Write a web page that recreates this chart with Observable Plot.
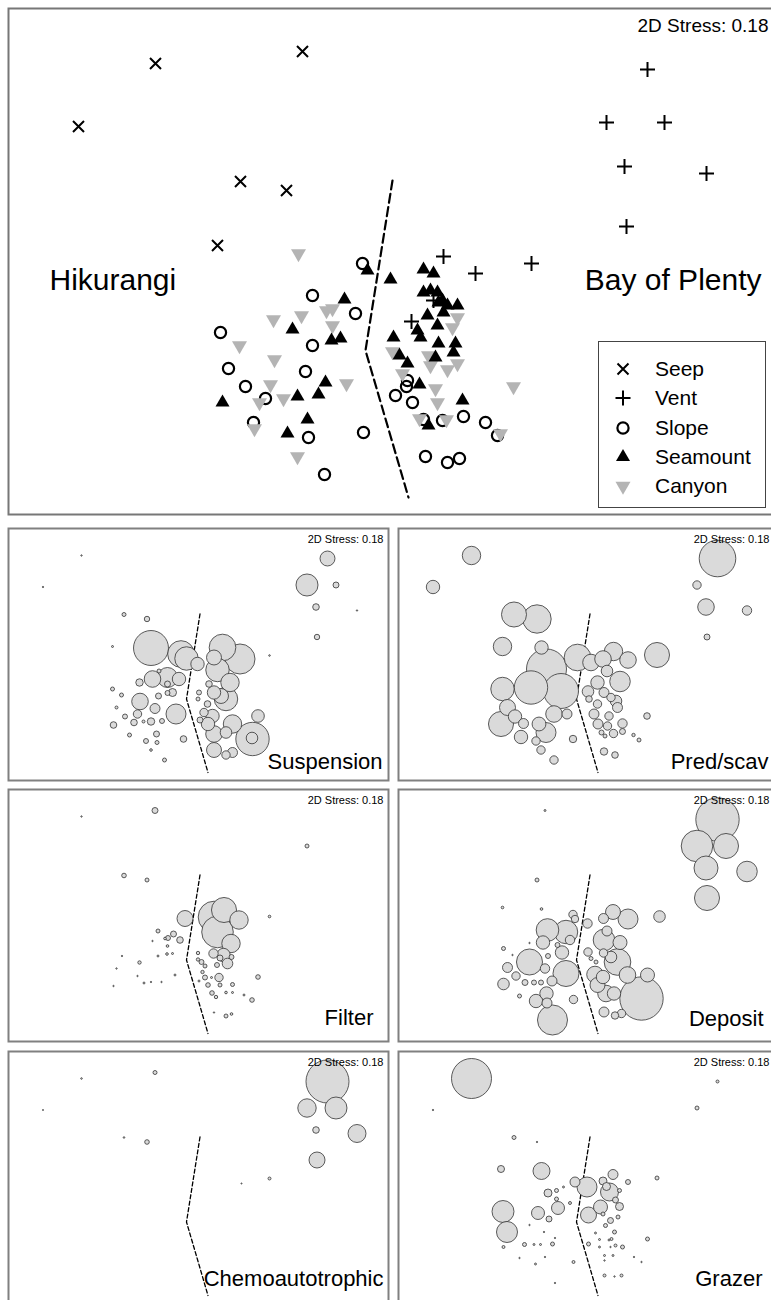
<!DOCTYPE html>
<html>
<head>
<meta charset="utf-8">
<script src="https://cdn.jsdelivr.net/npm/d3@7"></script>
<script src="https://cdn.jsdelivr.net/npm/@observablehq/plot@0.6"></script>
<style>
  html, body { margin: 0; padding: 0; background: #fff; overflow: hidden; }
  #fig { position: relative; width: 771px; height: 1300px; overflow: hidden;
         font-family: "Liberation Sans", Arial, Helvetica, sans-serif; }
  .panel { position: absolute; }
  .panel svg { display: block; }
  #legend { position: absolute; left: 598px; top: 341px; width: 168px; height: 167px;
            box-sizing: border-box; border: 1.5px solid #444; background: #fff; }
  #legend .item { position: absolute; left: 0; height: 24px; display: flex; align-items: center; }
  #legend svg { display: block; }
  #legend span { font-size: 21px; color: #000; margin-left: 20px; }
</style>
</head>
<body>
<div id="fig"></div>
<script>
// nMDS ordination of stations (axis scores), grouped by habitat
const habitats = ["Seep", "Vent", "Slope", "Seamount", "Canyon"];

const seep = [[-2.38, 1.98], [-0.91, 2.10], [-3.15, 1.35], [-1.53, 0.80], [-1.07, 0.71], [-1.76, 0.16]];

const vent = [[2.54, 1.92], [2.13, 1.39], [2.71, 1.39], [2.31, 0.95], [3.13, 0.88], [2.33, 0.35],
  [0.50, 0.05], [0.82, -0.12], [1.38, -0.02], [0.18, -0.60], [0.40, -0.39]];

const slope = [[-0.31, -0.02], [-0.81, -0.34], [-0.38, -0.52], [-1.73, -0.71], [-0.81, -0.84],
  [-1.65, -1.07], [-0.88, -1.10], [-1.48, -1.25], [-1.28, -1.37], [-1.40, -1.61], [-0.85, -1.76],
  [-0.30, -1.71], [-0.69, -2.13], [0.14, -1.19], [0.13, -1.25], [0.02, -1.34], [0.19, -1.41],
  [0.30, -1.58], [0.49, -1.59], [0.70, -1.55], [0.92, -1.61], [1.04, -1.74], [0.32, -1.95],
  [0.54, -2.01], [0.66, -1.97]];

const seamount = [[-0.26, -0.09], [-0.49, -0.38], [-1.01, -0.68], [-0.62, -0.79], [-0.53, -0.77],
  [-0.68, -1.21], [-0.96, -1.35], [-0.75, -1.33], [-1.71, -1.41], [-0.86, -1.58], [-1.06, -1.72],
  [-0.03, -0.18], [0.30, -0.08], [0.40, -0.12], [0.30, -0.31], [0.37, -0.29], [0.44, -0.31],
  [0.49, -0.39], [0.54, -0.44], [0.64, -0.44], [0.34, -0.54], [0.44, -0.64], [0.24, -0.69],
  [0.27, -0.76], [0.45, -0.82], [0.62, -0.82], [0.60, -0.91], [0.00, -0.76], [0.06, -0.94],
  [0.14, -1.02], [0.42, -0.96], [0.26, -1.23], [0.69, -1.39], [0.35, -1.64], [0.50, -0.51],
  [0.45, -0.41]];

const canyon = [[-0.95, 0.08], [-1.20, -0.58], [-0.92, -0.54], [-0.67, -0.49], [-0.61, -0.47],
  [-0.61, -0.64], [-1.54, -0.84], [-1.19, -0.98], [-1.23, -1.23], [-1.34, -1.41], [-1.10, -1.37],
  [-0.47, -1.22], [-1.39, -1.67], [-0.96, -1.95], [-0.01, -0.90], [0.09, -1.12], [0.37, -1.04],
  [0.54, -1.08], [0.64, -1.02], [0.59, -0.66], [0.64, -0.56], [0.42, -1.27], [0.44, -1.41],
  [0.26, -1.57], [0.53, -1.58], [1.07, -1.72], [1.20, -1.25], [0.35, -0.94]];

// dashed line separating the two regions
const boundary = [[-0.01, 0.81], [-0.28, -0.89], [0.15, -2.36]];
const stressLabel = "2D Stress: 0.18";
const regionNames = ["Hikurangi", "Bay of Plenty"];
const regionX = [-3.44, 3.68];
const regionY = [-0.19, -0.19];

// trophic guild bubble overlays: [MDS1, MDS2, relative abundance]
const guilds = ["Suspension", "Pred/scav", "Filter", "Deposit", "Chemoautotrophic", "Grazer"];

const suspension = [[2.54, 1.92, 3.5], [2.13, 1.39, 7.6], [2.71, 1.39, 0.56], [2.31, 0.95, 0.68],
  [2.33, 0.35, 0.46], [3.13, 0.88, 0.03], [-2.38, 1.98, 0.03], [-3.15, 1.35, 0.03], [-1.53, 0.80, 0.25],
  [-1.07, 0.71, 0.46], [-1.76, 0.16, 0.06], [1.38, -0.02, 0.04],
  [-0.99, 0.13, 19.1], [-0.39, 0.01, 11.1], [-0.28, -0.08, 8.6], [-0.06, -0.19, 2.8], [-0.96, -0.49, 4.3],
  [-0.66, -0.46, 6.25], [-0.43, -0.49, 2.8], [-0.83, -0.33, 0.25], [-0.66, -0.59, 0.56], [-1.22, -0.56, 0.86],
  [-1.76, -0.69, 0.25], [-1.58, -0.81, 0.25], [-1.21, -0.94, 4.3], [-0.84, -0.83, 0.56], [-0.66, -0.77, 0.39],
  [-0.56, -0.76, 1.0], [-0.91, -1.08, 1.56], [-0.49, -1.19, 6.25], [-1.68, -1.06, 0.14], [-1.26, -1.19, 1.1],
  [-1.51, -1.24, 0.39], [-1.33, -1.36, 0.68], [-1.14, -1.34, 0.14], [-0.99, -1.34, 0.86], [-0.77, -1.33, 0.39],
  [-1.74, -1.41, 0.68], [-1.42, -1.61, 0.25], [-1.09, -1.73, 0.39], [-0.88, -1.59, 0.56], [-0.87, -1.76, 0.25],
  [-0.99, -1.91, 0.11], [-0.34, -1.69, 0.68], [-0.72, -2.11, 0.25],
  [0.44, 0.14, 11.1], [0.79, -0.09, 14.1], [0.27, -0.06, 3.5], [0.34, -0.31, 8.6], [0.59, -0.56, 5.3],
  [0.27, -0.76, 2.8], [0.51, -0.89, 8.6], [0.41, -0.83, 3.5], [0.17, -0.59, 0.68], [-0.03, -0.76, 0.39],
  [-0.05, -0.89, 0.25], [0.14, -0.99, 0.68], [0.07, -1.16, 1.1], [0.24, -1.23, 2.8], [-0.01, -1.31, 0.56],
  [0.15, -1.39, 2.8], [0.64, -1.39, 5.3], [0.27, -1.59, 4.3], [0.51, -1.56, 2.1], [1.04, -1.69, 17.4],
  [1.03, -1.67, 2.1], [1.15, -1.23, 2.5], [0.27, -1.91, 3.5], [0.64, -1.96, 1.56], [0.51, -2.01, 1.1]];

const predScav = [[-2.38, 1.98, 5.3], [-3.15, 1.35, 2.8], [-1.53, 0.80, 9.8], [-1.07, 0.71, 12.6],
  [-1.76, 0.16, 5.3], [-0.98, 0.14, 2.8], [-0.88, -0.29, 25], [-1.19, -0.66, 17.4], [-0.59, -0.73, 19.1],
  [-0.26, -0.06, 11.1], [0.01, -0.16, 4.3], [-1.76, -0.69, 8.6], [-1.79, -1.39, 9.8], [-1.51, -1.24, 2.8],
  [-1.34, -1.38, 1.56], [-1.39, -1.65, 2.8], [-0.89, -1.56, 6.25], [-0.73, -1.19, 4.3], [-1.09, -1.73, 1.1],
  [-0.99, -1.91, 1.1], [-0.73, -2.11, 1.1], [-0.35, -1.69, 0.86], [-0.47, -1.19, 1.56], [-1.66, -1.06, 4.0],
  [-1.03, -1.39, 3.0],
  [0.25, -0.09, 4.3], [0.46, 0.06, 5.3], [0.75, -0.11, 4.3], [0.33, -0.33, 2.1], [0.59, -0.54, 6.6],
  [0.14, -0.56, 2.8], [-0.05, -0.74, 2.1], [0.27, -0.76, 1.56], [0.41, -0.86, 1.1], [0.51, -0.93, 2.1],
  [0.54, -1.06, 1.56], [0.14, -0.99, 1.1], [-0.03, -0.89, 0.68], [0.07, -1.19, 1.56], [0.37, -1.23, 1.1],
  [0.15, -1.39, 1.56], [0.34, -1.43, 1.1], [0.64, -1.38, 1.38], [0.46, -1.58, 1.1], [0.64, -1.54, 0.56],
  [0.22, -1.56, 0.39], [0.29, -1.63, 0.25], [1.33, -0.01, 9.8], [1.13, -1.23, 0.68], [0.86, -1.61, 0.18],
  [0.97, -1.71, 0.25], [0.27, -1.94, 0.86], [0.49, -2.01, 0.68],
  [2.54, 1.92, 20.9], [2.13, 1.39, 1.1], [2.31, 0.95, 4.3], [3.13, 0.88, 1.38], [2.33, 0.35, 0.56]];

const filter = [[-0.91, 2.10, 0.56], [-2.38, 1.98, 0.03], [2.13, 1.39, 0.25], [-1.53, 0.80, 0.33],
  [-1.07, 0.71, 0.25], [1.38, -0.02, 0.11], [-0.31, -0.06, 4.0], [0.47, 0.11, 9.8], [0.27, -0.03, 15.6],
  [0.77, -0.09, 5.3], [0.34, -0.33, 15.6], [0.61, -0.56, 5.3], [0.46, -0.79, 2.8], [0.26, -0.76, 1.38],
  [0.54, -0.96, 1.76], [0.39, -0.85, 0.56], [0.33, -0.99, 0.39], [0.62, -0.83, 0.39], [-0.85, -0.31, 0.25],
  [-0.54, -0.37, 0.56], [-0.65, -0.45, 0.39], [-0.41, -0.49, 0.68], [-0.71, -0.46, 0.11], [-0.96, -0.51, 0.03],
  [-0.66, -0.61, 0.11], [-0.67, -0.77, 0.11], [-0.56, -0.76, 0.06], [-0.85, -0.81, 0.06], [-1.57, -0.81, 0.03],
  [-1.22, -0.94, 0.18], [-1.68, -1.06, 0.03], [-1.26, -1.21, 0.03], [-1.13, -1.35, 0.06], [-0.99, -1.33, 0.03],
  [-0.78, -1.33, 0.03], [-1.74, -1.41, 0.03], [-0.51, -1.19, 0.06], [-0.05, -0.75, 0.18], [-0.05, -0.88, 0.18],
  [0.02, -0.93, 0.39], [0.09, -1.01, 0.25], [0.04, -1.13, 0.18], [0.09, -1.24, 0.39], [0.37, -1.24, 1.1],
  [-0.03, -1.31, 0.06], [0.22, -1.24, 0.06], [0.15, -1.39, 0.33], [0.39, -1.39, 0.25], [0.64, -1.38, 0.25],
  [0.23, -1.55, 0.33], [0.31, -1.63, 0.18], [0.51, -1.54, 0.11], [0.64, -1.54, 0.06], [0.87, -1.59, 0.06],
  [1.03, -1.69, 0.33], [1.15, -1.23, 0.33], [0.27, -1.94, 0.03], [0.51, -2.01, 0.25], [0.62, -1.97, 0.11]];

const deposit = [[2.54, 1.92, 29.4], [2.13, 1.39, 15.6], [2.71, 1.39, 9.8], [2.31, 0.95, 9.0],
  [3.13, 0.88, 6.6], [2.33, 0.35, 9.8], [-0.91, 2.10, 0.06], [-1.07, 0.71, 0.25], [-1.76, 0.16, 0.11],
  [-0.98, 0.13, 0.11], [1.38, -0.02, 2.1], [-0.35, 0.02, 1.1], [-0.31, -0.07, 0.86], [-0.06, -0.16, 1.38],
  [-0.86, -0.29, 8.0], [-0.49, -0.33, 8.6], [-0.95, -0.54, 2.8], [-0.41, -0.49, 1.38], [-0.66, -0.59, 0.39],
  [-0.57, -0.74, 2.8], [-0.85, -0.81, 0.39], [-1.22, -0.93, 10.6], [-1.74, -0.66, 0.25], [-1.56, -0.79, 0.03],
  [-0.91, -1.06, 1.38], [-0.49, -1.16, 10.6], [-1.66, -1.04, 1.56], [-1.49, -1.21, 1.1], [-1.31, -1.34, 0.56],
  [-1.13, -1.34, 0.39], [-0.99, -1.34, 0.39], [-0.77, -1.31, 1.56], [-1.74, -1.37, 2.1], [-1.42, -1.61, 0.25],
  [-1.09, -1.71, 2.8], [-0.88, -1.56, 2.8], [-0.87, -1.75, 1.56], [-0.34, -1.68, 1.1], [-0.76, -2.09, 14.1],
  [-1.22, -0.55, 0.03],
  [0.26, -0.06, 1.56], [0.45, 0.07, 3.5], [0.75, -0.07, 6.25], [0.33, -0.31, 1.56], [0.27, -0.49, 7.3],
  [0.59, -0.54, 3.06], [0.54, -0.93, 11.1], [0.41, -0.83, 2.1], [0.26, -0.75, 1.1], [-0.05, -0.73, 1.1],
  [0.01, -0.86, 0.25], [0.11, -0.93, 0.25], [0.09, -1.18, 4.3], [0.25, -1.23, 2.8], [0.14, -1.39, 3.5],
  [0.31, -1.56, 4.3], [0.47, -1.56, 2.8], [0.74, -1.19, 4.3], [1.14, -1.19, 3.06], [1.02, -1.66, 29.4],
  [0.27, -1.93, 1.56], [0.49, -2.0, 0.86], [0.62, -1.96, 1.1]];

const chemo = [[2.54, 1.92, 28.9], [2.13, 1.39, 5.3], [2.71, 1.39, 7.56], [2.31, 0.95, 0.68],
  [3.13, 0.88, 5.06], [2.33, 0.35, 4.0], [-0.91, 2.10, 0.25], [-2.38, 1.98, 0.04], [-3.15, 1.35, 0.02],
  [-1.53, 0.80, 0.04], [-1.07, 0.71, 0.33], [0.82, -0.12, 0.02], [1.38, -0.02, 0.14]];

const grazer = [[-2.38, 1.98, 25], [-3.15, 1.35, 0.03], [2.54, 1.92, 0.14], [2.13, 1.39, 0.25],
  [-1.53, 0.80, 0.25], [-1.07, 0.71, 0.03], [-1.79, 0.17, 0.77], [-0.98, 0.13, 4.5], [-0.31, -0.09, 1.56],
  [-0.07, -0.19, 6.25], [0.25, -0.07, 1.0], [0.45, 0.06, 1.56], [0.75, -0.09, 0.39], [1.33, -0.01, 0.25],
  [0.38, -0.29, 5.06], [0.32, -0.18, 1.0], [0.50, -0.45, 0.56], [0.58, -0.26, 0.25], [0.58, -0.58, 1.0],
  [0.20, -0.59, 3.06], [-0.04, -0.75, 4.0], [0.25, -0.73, 0.25], [0.40, -0.86, 0.56], [0.55, -0.79, 0.25],
  [0.30, -0.96, 0.25], [0.48, -1.09, 0.25], [0.42, -1.23, 0.14], [0.50, -1.36, 0.14], [0.10, -1.11, 0.06],
  [-0.04, -1.33, 0.25], [-0.85, -0.31, 1.0], [-0.68, -0.26, 0.25], [-0.54, -0.19, 0.06], [-0.65, -0.61, 2.64],
  [-0.83, -0.83, 0.56], [-1.05, -0.71, 2.64], [-0.68, -0.43, 0.25], [-0.41, -0.51, 0.14], [-1.75, -0.68, 7.56],
  [-1.67, -1.09, 6.9], [-1.22, -0.95, 0.03], [-0.93, -1.09, 0.03], [-0.71, -1.21, 0.03], [-1.74, -1.39, 0.14],
  [-1.32, -1.34, 0.25], [-1.13, -1.34, 0.06], [-1.00, -1.34, 0.06], [-0.76, -1.33, 0.25], [-0.91, -1.59, 0.03],
  [-1.42, -1.61, 0.03], [-1.10, -1.73, 0.06], [-0.34, -1.69, 0.14], [-0.71, -2.11, 0.03], [0.18, -1.24, 0.06],
  [0.37, -1.25, 0.06], [0.18, -1.39, 0.06], [0.40, -1.39, 0.03], [0.64, -1.39, 0.25], [0.28, -1.56, 0.06],
  [0.45, -1.56, 0.06], [0.28, -1.66, 0.03], [0.87, -1.59, 0.03], [1.02, -1.69, 0.03], [1.14, -1.23, 0.25],
  [0.28, -1.96, 0.14], [0.62, -1.96, 0.14], [0.48, -1.98, 0.03]];

const guildData = [suspension, predScav, filter, deposit, chemo, grazer];

// ---- symbols (half-extent derived from the dot radius) ----
const half = size => Math.sqrt(size / Math.PI);
const sym = {
  times: {draw(c, s) { const h = half(s); c.moveTo(-h, -h); c.lineTo(h, h); c.moveTo(-h, h); c.lineTo(h, -h); }},
  plus: {draw(c, s) { const h = half(s); c.moveTo(-h, 0); c.lineTo(h, 0); c.moveTo(0, -h); c.lineTo(0, h); }},
  ring: {draw(c, s) { const h = half(s); c.moveTo(h, 0); c.arc(0, 0, h, 0, 2 * Math.PI); c.closePath(); }},
  up: {draw(c, s) { const h = half(s), t = h * Math.sqrt(3);
    c.moveTo(0, -t * 2 / 3); c.lineTo(h, t / 3); c.lineTo(-h, t / 3); c.closePath(); }},
  down: {draw(c, s) { const h = half(s), t = h * Math.sqrt(3);
    c.moveTo(0, t * 2 / 3); c.lineTo(h, -t / 3); c.lineTo(-h, -t / 3); c.closePath(); }}
};

const habitatStyle = {
  Seep: {symbol: sym.times, r: 5.5, fill: "none", stroke: "#000", strokeWidth: 2},
  Vent: {symbol: sym.plus, r: 7.5, fill: "none", stroke: "#000", strokeWidth: 2},
  Slope: {symbol: sym.ring, r: 5.6, fill: "none", stroke: "#000", strokeWidth: 2.2},
  Seamount: {symbol: sym.up, r: 7, fill: "#000", stroke: "none"},
  Canyon: {symbol: sym.down, r: 7.5, fill: "#b4b4b4", stroke: "none"}
};

const byHabitat = {Seep: seep, Vent: vent, Slope: slope, Seamount: seamount, Canyon: canyon};
const stations = habitats.flatMap(h => byHabitat[h].map(([x, y]) => ({x, y, habitat: h})));
const drawOrder = ["Slope", "Canyon", "Seamount", "Vent", "Seep"];
const regions = regionNames.map((name, i) => ({name, x: regionX[i], y: regionY[i]}));

const font = '"Liberation Sans", Arial, Helvetica, sans-serif';
const svgStyle = {fontFamily: font, background: "transparent", maxWidth: "none", overflow: "visible"};

const fig = document.getElementById("fig");
function place(node, left, top) {
  const d = document.createElement("div");
  d.className = "panel";
  d.style.left = left + "px";
  d.style.top = top + "px";
  d.appendChild(node);
  fig.appendChild(d);
  return d;
}

// ---- main ordination ----
const mainPlot = Plot.plot({
  width: 772, height: 508, margin: 0,
  x: {domain: [-3.86, 3.86], axis: null},
  y: {domain: [-2.54, 2.54], axis: null},
  style: svgStyle,
  marks: [
    Plot.frame({stroke: "#777", strokeWidth: 2, inset: 1}),
    Plot.line(boundary, {x: d => d[0], y: d => d[1], stroke: "#000", strokeWidth: 2.2, strokeDasharray: "9,4.5"}),
    ...drawOrder.map(h => Plot.dot(stations.filter(d => d.habitat === h), {x: "x", y: "y", ...habitatStyle[h]})),
    Plot.text(regions.slice(0, 1), {x: "x", y: "y", text: "name", textAnchor: "start",
      lineAnchor: "middle", fontSize: 30, fill: "#000"}),
    Plot.text(regions.slice(1), {x: "x", y: "y", text: "name", textAnchor: "end",
      lineAnchor: "middle", fontSize: 30, fill: "#000"}),
    Plot.text([stressLabel], {frameAnchor: "top-right", dx: -11, dy: 18, lineAnchor: "middle", fontSize: 19, fill: "#000"})
  ]
});
place(mainPlot, 7, 7);

// legend
const legend = document.createElement("div");
legend.id = "legend";
habitats.forEach((h, i) => {
  const st = habitatStyle[h];
  const item = document.createElement("div");
  item.className = "item";
  item.style.top = (27 + 29.3 * i - 12) + "px";
  item.style.left = "12px";
  const s = d3.create("svg").attr("width", 24).attr("height", 24);
  s.append("path")
    .attr("transform", "translate(12,12)")
    .attr("d", d3.symbol(st.symbol, Math.PI * st.r * st.r)())
    .attr("fill", st.fill).attr("stroke", st.stroke).attr("stroke-width", st.strokeWidth || 0);
  item.appendChild(s.node());
  const t = document.createElement("span");
  t.textContent = h;
  item.appendChild(t);
  legend.appendChild(item);
});
fig.appendChild(legend);

// ---- trophic guild bubble plots ----
// per-panel label offsets from the bottom-right corner
const labelOffset = [[-7, -20], [-11, -20], [-16, -25], [-16, -24], [-6, -26], [-17, -26]];

function bubblePanel(name, data, stressDx, [ldx, ldy]) {
  return Plot.plot({
    width: 382, height: 254, margin: 0,
    x: {domain: [-3.86, 3.78], axis: null},
    y: {domain: [-2.54, 2.54], axis: null},
    r: {type: "sqrt", domain: [0, 100], range: [0, 40]},
    style: svgStyle,
    marks: [
      Plot.frame({stroke: "#808080", strokeWidth: 2, inset: 1}),
      Plot.line(boundary, {x: d => d[0], y: d => d[1], stroke: "#000", strokeWidth: 1.3, strokeDasharray: "4,2.5"}),
      Plot.dot(data, {x: d => d[0], y: d => d[1], r: d => d[2], fill: "#dadada", stroke: "#333", strokeWidth: 0.8}),
      Plot.text([name], {frameAnchor: "bottom-right", dx: ldx, dy: ldy, lineAnchor: "middle", fontSize: 22, fill: "#000"}),
      Plot.text([stressLabel], {frameAnchor: "top-right", dx: stressDx, dy: 11.5, lineAnchor: "middle", fontSize: 11, fill: "#000"})
    ]
  });
}

const cols = [7, 397];
const rows = [527, 788, 1050];
guilds.forEach((g, i) => {
  const col = i % 2;
  place(bubblePanel(g, guildData[i], col === 0 ? -6 : -10, labelOffset[i]), cols[col], rows[Math.floor(i / 2)]);
});
</script>
</body>
</html>
